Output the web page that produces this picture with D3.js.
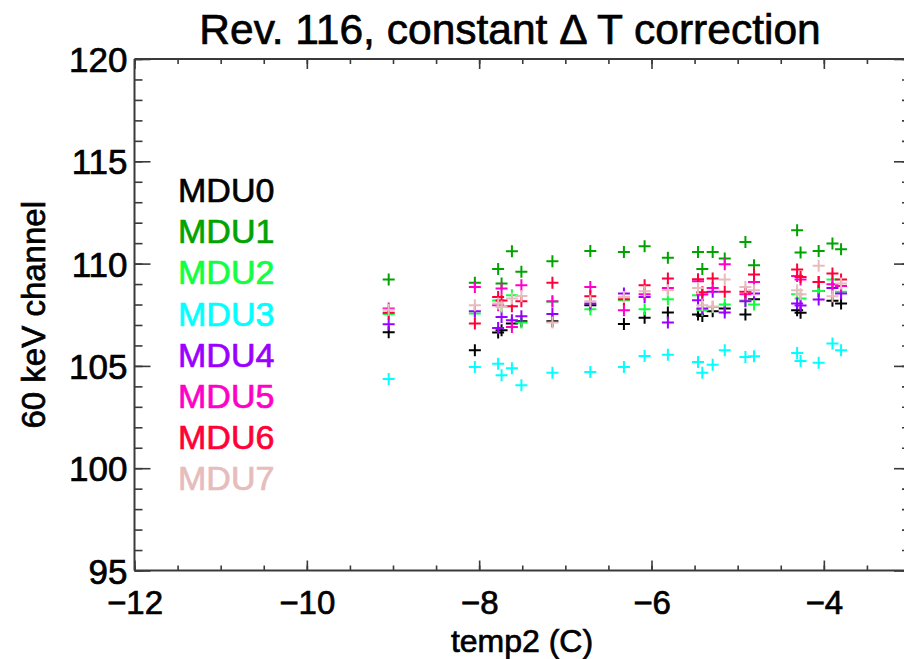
<!DOCTYPE html>
<html>
<head>
<meta charset="utf-8">
<script src="https://cdn.jsdelivr.net/npm/d3@7"></script>
<style>
  html, body { margin: 0; padding: 0; background: #fff; }
  svg { display: block; }
  text { font-family: "Liberation Sans", Arial, Helvetica, sans-serif; }
</style>
</head>
<body>
<svg id="chart" width="904" height="659"></svg>
<script>
// ---------------- data ----------------
const temps = [-9.05, -8.05, -7.78, -7.74, -7.62, -7.51, -7.15, -6.71, -6.32, -6.08, -5.81,
               -5.46, -5.41, -5.29, -5.15, -4.91, -4.81, -4.31, -4.27, -4.06, -3.90, -3.80];

const mdu0 = [106.64, 105.76, 106.63, 106.74, 107.07, 107.18, 107.18, 107.96, 107.05, 107.35, 107.61,
              107.51, 107.44, 107.67, 107.80, 107.51, 108.26, 107.72, 107.60, 108.66, 108.18, 108.05];
const mdu1 = [109.22, 109.07, 109.73, 109.03, 110.60, 109.60, 110.12, 110.61, 110.57, 110.85, 110.28,
              110.57, 109.73, 110.57, 110.25, 111.06, 109.92, 111.63, 110.54, 110.62, 110.98, 110.70];
const mdu2 = [107.54, 107.56, 108.20, 107.90, 108.45, 107.12, 108.13, 107.77, 108.21, 107.77, 108.26,
              108.45, 107.72, 107.88, 108.00, 108.20, 108.00, 108.50, 108.30, 108.66, 109.22, 108.62];
const mdu3 = [104.36, 104.95, 105.11, 104.54, 104.88, 104.05, 104.67, 104.70, 104.95, 105.48, 105.55,
              105.19, 104.67, 105.06, 105.76, 105.44, 105.47, 105.63, 105.24, 105.16, 106.09, 105.76];
const mdu4 = [107.04, 107.67, 106.85, 107.39, 107.23, 107.43, 107.54, 108.05, 108.54, 108.37, 107.12,
              108.21, 107.80, 108.62, 107.61, 108.16, 108.54, 108.05, 107.95, 108.24, 108.81, 108.54];
const mdu5 = [107.80, 108.86, 107.96, 108.78, 106.90, 108.94, 108.16, 108.86, 107.72, 108.50, 108.81,
              109.14, 108.49, 108.81, 109.97, 108.50, 109.10, 109.40, 109.22, 109.10, 108.99, 108.90];
const mdu6 = [107.60, 107.07, 108.37, 108.20, 107.92, 108.16, 109.06, 108.41, 108.26, 108.94, 109.27,
              109.24, 108.60, 109.27, 108.62, 108.62, 109.47, 109.71, 109.35, 109.10, 109.52, 109.22];
const mdu7 = [107.75, 107.96, 108.05, 107.90, 108.30, 108.42, 107.12, 108.16, 108.37, 108.65, 108.70,
              108.81, 107.96, 107.90, 109.22, 108.86, 108.70, 108.70, 108.50, 109.89, 108.41, 109.03];

const seriesNames  = ["MDU0", "MDU1", "MDU2", "MDU3", "MDU4", "MDU5", "MDU6", "MDU7"];
const seriesValues = [mdu0, mdu1, mdu2, mdu3, mdu4, mdu5, mdu6, mdu7];
const seriesColors = ["#000000", "#00a300", "#10ff40", "#00ffff", "#9a00ff", "#ff00c8", "#ff0038", "#e6bcbc"];

const xTicks = [-12, -10, -8, -6, -4];
const yTicks = [95, 100, 105, 110, 115, 120];

const titleText = "Rev. 116, constant \u0394 T correction";
const xLabel = "temp2 (C)";
const yLabel = "60 keV channel";

// ---------------- layout ----------------
const svg = d3.select("#chart");
const L = 134.5, R = 910, T = 59, B = 570.5;
const x = d3.scaleLinear().domain([-12, -3]).range([L, R]);
const y = d3.scaleLinear().domain([95, 120]).range([B, T]);
const axisColor = "#3a3a3a";

function bolden(sel, color) {
  sel.attr("stroke", color).attr("stroke-width", 0.7).attr("paint-order", "stroke");
}

// title
bolden(svg.append("text").attr("x", 510).attr("y", 44).attr("text-anchor", "middle")
  .attr("font-size", 42.5).attr("fill", "#000").text(titleText), "#000");

// frame + ticks
const g = svg.append("g");
function styleAxis(sel) {
  sel.select(".domain").remove();
  sel.selectAll("line").attr("stroke", axisColor).attr("stroke-width", 1.6);
  sel.selectAll("text").attr("fill", "#000");
}
const xMinor = d3.range(-12, -2.99, 0.5);
const yMinor = d3.range(95, 120.01, 1);

// bottom axis
const gb = g.append("g").attr("transform", `translate(0,${B})`)
  .call(d3.axisBottom(x).tickValues(xMinor).tickSize(-5).tickFormat(""));
styleAxis(gb);
const gb2 = g.append("g").attr("transform", `translate(0,${B})`)
  .call(d3.axisBottom(x).tickValues(xTicks).tickSize(-10).tickPadding(20)
    .tickFormat(d => d3.format("d")(d).replace("-", "\u2212")));
styleAxis(gb2);
gb2.selectAll("text").attr("font-size", 33).attr("font-family", "Liberation Sans, Arial, sans-serif");
bolden(gb2.selectAll("text"), "#000");

// top axis
const gt = g.append("g").attr("transform", `translate(0,${T})`)
  .call(d3.axisTop(x).tickValues(xMinor).tickSize(-5).tickFormat(""));
styleAxis(gt);
const gt2 = g.append("g").attr("transform", `translate(0,${T})`)
  .call(d3.axisTop(x).tickValues(xTicks).tickSize(-10).tickFormat(""));
styleAxis(gt2);

// left axis
const gl = g.append("g").attr("transform", `translate(${L},0)`)
  .call(d3.axisLeft(y).tickValues(yMinor).tickSize(-8).tickFormat(""));
styleAxis(gl);
const gl2 = g.append("g").attr("transform", `translate(${L},0)`)
  .call(d3.axisLeft(y).tickValues(yTicks).tickSize(-16).tickPadding(7).tickFormat(d3.format("d")));
styleAxis(gl2);
gl2.selectAll("text").attr("font-size", 35).attr("dy", "0.36em");
bolden(gl2.selectAll("text"), "#000");

// right axis
const gr = g.append("g").attr("transform", `translate(${R},0)`)
  .call(d3.axisRight(y).tickValues(yMinor).tickSize(-8).tickFormat(""));
styleAxis(gr);
const gr2 = g.append("g").attr("transform", `translate(${R},0)`)
  .call(d3.axisRight(y).tickValues(yTicks).tickSize(-16).tickFormat(""));
styleAxis(gr2);

// frame lines
g.append("line").attr("x1", L).attr("x2", R).attr("y1", B).attr("y2", B).attr("stroke", axisColor).attr("stroke-width", 2);
g.append("line").attr("x1", L).attr("x2", R).attr("y1", T).attr("y2", T).attr("stroke", axisColor).attr("stroke-width", 2);
g.append("line").attr("x1", L).attr("x2", L).attr("y1", T).attr("y2", B).attr("stroke", axisColor).attr("stroke-width", 2);
g.append("line").attr("x1", R).attr("x2", R).attr("y1", T).attr("y2", B).attr("stroke", axisColor).attr("stroke-width", 2);

// axis titles
bolden(svg.append("text").attr("x", 522).attr("y", 652).attr("text-anchor", "middle")
  .attr("font-size", 32).text(xLabel), "#000");
bolden(svg.append("text").attr("transform", `translate(45,${(T + B) / 2}) rotate(-90)`)
  .attr("text-anchor", "middle").attr("font-size", 33).text(yLabel), "#000");

// points (plus symbols)
const hs = 6;
seriesValues.forEach((vals, si) => {
  const pts = temps.map((t, i) => ({ t, v: vals[i] })).filter(d => d.v != null);
  const sg = svg.append("g").attr("stroke", seriesColors[si]).attr("stroke-width", 2);
  sg.selectAll("path").data(pts).enter().append("path")
    .attr("d", d => {
      const cx = x(d.t), cy = y(d.v);
      return `M${cx - hs},${cy}H${cx + hs}M${cx},${cy - hs}V${cy + hs}`;
    });
});

// legend
const legend = svg.append("g");
seriesNames.forEach((name, i) => {
  bolden(legend.append("text").attr("x", 178).attr("y", 202 + i * 41.2)
    .attr("font-size", 34).attr("fill", seriesColors[i]).text(name), seriesColors[i]);
});
</script>
</body>
</html>
